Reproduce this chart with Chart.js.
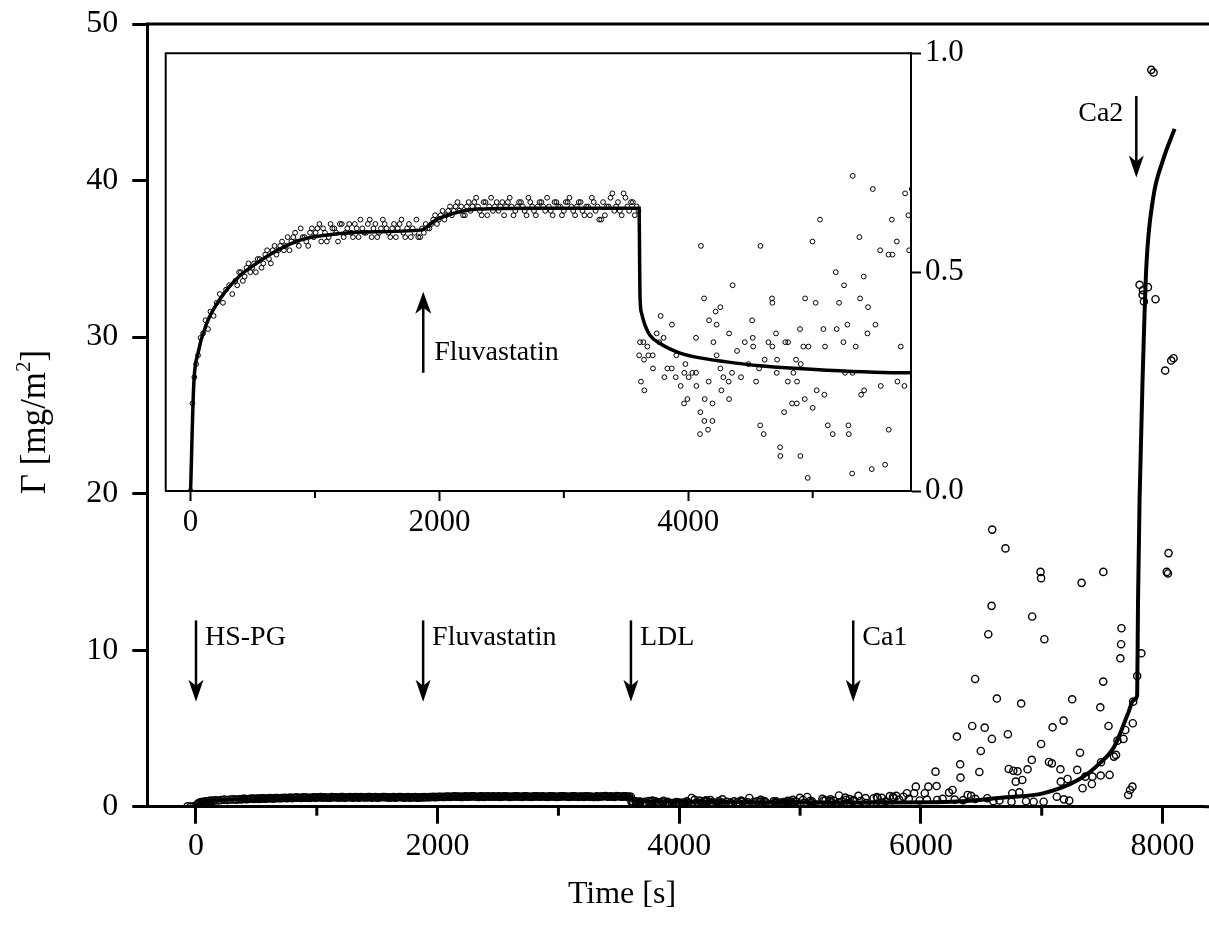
<!DOCTYPE html>
<html><head><meta charset="utf-8">
<script src="https://cdn.jsdelivr.net/npm/chart.js@4/dist/chart.umd.min.js"></script>
<style>
html,body{margin:0;padding:0;background:#fff;}
#wrap{position:relative;width:1209px;height:926px;}
#main{position:absolute;left:0;top:0;}
#inset{position:absolute;left:150px;top:40px;}
</style></head><body>
<div id="wrap"><canvas id="main" width="1209" height="926"></canvas><canvas id="inset" width="850" height="500"></canvas></div>
<script>
// adsorbed amount vs time
const earlyTime=[-70,-45,-20,0,15,30,45,60,80,100,120,140,160,185,210,235,260,285,310,335,360,390,420,450,480,510,540,570,600,630,660,690,720,750,780,810,840,870,900,930,960,990,1020,1050,1080,1110,1140,1170,1200,1230,1260,1290,1320,1350,1380,1410,1440,1470,1500,1530,1560,1590,1620,1650,1680,1710,1740,1770,1800,1830,1860,1890,1920,1950,1980,2010,2040,2070,2100,2130,2160,2190,2220,2250,2280,2310,2340,2370,2400,2430,2460,2490,2520,2550,2580,2610,2640,2670,2700,2730,2760,2790,2820,2850,2880,2910,2940,2970,3000,3030,3060,3090,3120,3150,3180,3210,3240,3270,3300,3330,3360,3390,3420,3450,3480,3510,3540,3570,3600];
const earlyGamma=[0.02,0.01,0.03,0.00,0.20,0.26,0.29,0.31,0.35,0.36,0.39,0.37,0.41,0.40,0.43,0.45,0.43,0.46,0.47,0.45,0.48,0.50,0.48,0.51,0.50,0.52,0.53,0.51,0.54,0.53,0.55,0.54,0.56,0.55,0.58,0.57,0.59,0.56,0.58,0.57,0.59,0.58,0.60,0.57,0.59,0.58,0.60,0.59,0.61,0.58,0.60,0.59,0.61,0.58,0.60,0.59,0.62,0.60,0.58,0.60,0.61,0.59,0.60,0.58,0.61,0.59,0.60,0.58,0.59,0.58,0.60,0.61,0.60,0.62,0.61,0.63,0.62,0.64,0.63,0.65,0.64,0.63,0.65,0.64,0.66,0.65,0.63,0.66,0.65,0.64,0.66,0.65,0.63,0.66,0.65,0.64,0.66,0.65,0.63,0.66,0.64,0.65,0.66,0.64,0.65,0.63,0.66,0.65,0.64,0.66,0.65,0.63,0.66,0.64,0.65,0.63,0.66,0.65,0.62,0.63,0.65,0.68,0.65,0.64,0.68,0.65,0.66,0.63,0.64];
const earlyTimeB=[375,405,435,465,495,525,555,585,615,645,675,705,735,765,795,825,855,885,915,945,975,1005,1035,1065,1095,1125,1155,1185,1215,1245,1275,1305,1335,1365,1395,1425,1455,1485,1515,1545,1575,1605,1635,1665,1695,1725,1755,1785,1815,1845,1875,1905,1935,1965,1995,2025,2055,2085,2115,2145,2175,2205,2235,2265,2295,2325,2355,2385,2415,2445,2475,2505,2535,2565,2595,2625,2655,2685,2715,2745,2775,2805,2835,2865,2895,2925,2955,2985,3015,3045,3075,3105,3135,3165,3195,3225,3255,3285,3315,3345,3375,3405,3435,3465,3495,3525,3555,3585];
const earlyGammaB=[0.47,0.50,0.49,0.52,0.51,0.50,0.53,0.52,0.55,0.52,0.56,0.55,0.57,0.56,0.55,0.58,0.57,0.60,0.58,0.56,0.60,0.59,0.61,0.60,0.57,0.61,0.60,0.57,0.61,0.59,0.61,0.58,0.60,0.62,0.59,0.61,0.58,0.61,0.59,0.62,0.60,0.58,0.61,0.60,0.62,0.58,0.61,0.60,0.62,0.58,0.59,0.60,0.61,0.63,0.62,0.64,0.63,0.65,0.64,0.66,0.65,0.63,0.66,0.65,0.67,0.64,0.66,0.63,0.67,0.65,0.64,0.66,0.65,0.67,0.63,0.65,0.66,0.64,0.67,0.65,0.63,0.66,0.65,0.67,0.64,0.66,0.65,0.63,0.66,0.67,0.64,0.65,0.66,0.63,0.65,0.67,0.64,0.62,0.66,0.65,0.67,0.64,0.66,0.63,0.67,0.64,0.66,0.65];
const midTime=[3612,3620,3647,3605,3644,3679,3714,3639,3671,3746,3778,3802,3767,3869,3904,3716,3808,3832,3867,3899,3939,3977,3968,4003,4033,4062,4065,3993,3966,4062,4102,4127,4097,4129,4159,4094,4194,4194,4132,4164,4167,4228,4202,4228,4220,4258,4258,4282,4325,4266,4328,4328,4352,4357,4392,4424,4454,4483,4513,4518,4522,4545,4569,4580,4578,4606,4614,4644,4676,4673,4676,4705,4714,4711,4770,4738,4740,4780,4802,4800,4834,4872,4845,4866,4904,4874,4898,4901,4925,4965,4939,4936,4960,4998,5000,5024,5032,5059,5086,5094,5099,5121,5161,5185,5212,5193,5247,5252,5279,5260,5287,5290,5319,5322,5317,5346,5375,5389,5381,5413,5410,5445,5440,5504,5483,5542,5547,5609,5636,5641,5676,5743,5769,5775,5708,5681,5611,5475,5582,5737];
const midGamma=[0.34,0.25,0.23,0.31,0.30,0.31,0.31,0.34,0.33,0.36,0.40,0.35,0.34,0.38,0.31,0.28,0.26,0.28,0.28,0.26,0.24,0.29,0.27,0.26,0.27,0.27,0.24,0.21,0.20,0.35,0.56,0.44,0.18,0.16,0.14,0.13,0.16,0.20,0.21,0.25,0.39,0.38,0.34,0.31,0.41,0.42,0.28,0.26,0.25,0.23,0.21,0.36,0.27,0.47,0.32,0.26,0.34,0.29,0.39,0.35,0.33,0.25,0.28,0.56,0.15,0.13,0.30,0.34,0.33,0.44,0.43,0.36,0.30,0.27,0.18,0.10,0.08,0.34,0.34,0.25,0.20,0.20,0.27,0.30,0.29,0.25,0.37,0.08,0.33,0.33,0.44,0.21,0.03,0.57,0.19,0.43,0.23,0.62,0.37,0.22,0.33,0.15,0.13,0.50,0.43,0.37,0.34,0.47,0.38,0.27,0.15,0.13,0.27,0.72,0.04,0.33,0.58,0.22,0.44,0.23,0.49,0.42,0.36,0.38,0.69,0.55,0.24,0.54,0.62,0.54,0.57,0.68,0.63,0.55,0.33,0.25,0.14,0.05,0.06,0.24];
const lateTime=[5796,5855,5884,5944,5958,6032,6062,6121,6130,6135,6233,6262,6298,6325,6328,6387,6416,6425,6449,6484,6496,6528,6549,6558,6585,6588,6629,6720,6727,6750,6756,6765,6785,6800,6815,6830,6839,6883,6918,6921,6933,6995,7016,7022,7060,7084,7090,7125,7155,7158,7181,7184,7214,7228,7252,7294,7317,7338,7361,7415,7420,7485,7488,7491,7509,7553,7562,7598,7615,7627,7651,7657,7660,7677,7692,7716,7731,7751,7754,7757,7790,7825,7907,7926,7810,7838,7879,7835,7846,7942,8072,8091,8022,6590,6700,6990,6995,7330,7510,8050,8035,8045,5820,5900,5990,6050,6180,6280,6350,6450,6600,6650,6870];
const lateGamma=[0.69,0.64,0.86,0.86,1.28,0.86,1.28,2.24,1.32,0.43,0.90,1.07,4.48,2.71,1.86,0.75,0.69,5.16,8.16,2.22,3.56,5.05,0.54,11.02,12.83,4.33,6.91,4.63,2.41,0.32,0.86,2.30,1.60,2.26,0.92,6.59,1.71,2.39,2.99,12.15,0.32,4.01,0.32,10.70,2.86,2.77,5.07,0.64,2.39,1.60,5.50,0.47,1.77,0.39,6.86,2.35,3.45,1.18,1.92,1.45,1.92,6.35,1.99,2.84,7.99,5.16,2.03,3.20,3.31,4.22,9.48,10.38,11.40,4.33,4.90,0.75,1.07,1.28,5.33,6.71,8.35,9.80,47.07,46.9,33.34,33.0,33.19,32.7,32.27,32.42,28.5,28.65,27.86,17.7,16.5,15.0,14.6,14.3,15.0,16.2,15.0,14.9,0.45,0.5,0.4,0.45,0.5,0.45,0.42,0.5,0.35,0.4,0.35];
const fitTime=[0,25,60,130,250,390,530,680,880,1100,1400,1850,1970,2110,2310,2800,3605,3609,3612,3625,3652,3692,3773,3907,4041,4309,4577,5113,5769,6100,6300,6480,6710,7010,7300,7480,7600,7715,7760,7790,7797,7810,7838,7866,7921,8004,8100];
const fitGamma=[0,0.24,0.315,0.383,0.444,0.49,0.52,0.547,0.573,0.585,0.592,0.596,0.619,0.634,0.644,0.646,0.646,0.52,0.444,0.406,0.379,0.356,0.337,0.318,0.307,0.295,0.286,0.276,0.27,0.28,0.33,0.43,0.6,0.85,1.7,2.77,3.83,5.97,6.8,7.1,13,19.6,28.1,34.5,38.8,41.3,43.3];

const mainXTicks=[0,2000,4000,6000,8000];
const mainXMinor=[1000,3000,5000,7000];
const mainYTicks=[0,10,20,30,40,50];
const insetXTicks=[0,2000,4000];
const insetXMinor=[1000,3000,5000];
const insetYTicks=[0,0.5,1.0];

const arrowLabels=['HS-PG','Fluvastatin','LDL','Ca1','Ca2'];
const arrowTimes=[0,1880,3600,5440,7783];
const arrowFrom=[11.9,11.9,11.9,11.9,45.4];
const arrowTo=[6.7,6.7,6.7,6.7,40.2];
const insetArrowTime=1870, insetArrowFrom=0.27, insetArrowTo=0.455;

const serif="'Liberation Serif','Times New Roman',serif";
Chart.defaults.font.family=serif;
Chart.defaults.color='#000';

const allT=[...earlyTime,...earlyTimeB,...midTime,...lateTime];
const allG=[...earlyGamma,...earlyGammaB,...midGamma,...lateGamma];
const pts=allT.map((t,i)=>({x:t,y:allG[i]}));
const insetPts=pts.filter(p=>p.x>=0);
const fit=fitTime.map((t,i)=>({x:t,y:fitGamma[i]}));

function arrow(ctx,x,y0,y1,head,half){
  const dir=y1>y0?1:-1;
  ctx.lineWidth=2.5;
  ctx.beginPath();ctx.moveTo(x,y0);ctx.lineTo(x,y1-dir*(head-6));ctx.stroke();
  ctx.beginPath();ctx.moveTo(x,y1);ctx.lineTo(x-half,y1-dir*head);ctx.lineTo(x,y1-dir*(head-6));ctx.lineTo(x+half,y1-dir*head);ctx.closePath();ctx.fill();
}
const noPad=s=>{s.paddingLeft=0;s.paddingRight=0;s.paddingTop=0;s.paddingBottom=0;};

const mainDecor={id:'mainDecor',afterDraw(c){
  const {ctx,chartArea:a,scales:{x,y}}=c;
  ctx.save();ctx.strokeStyle='#000';ctx.fillStyle='#000';
  ctx.lineWidth=3;
  ctx.beginPath();ctx.moveTo(a.left-1.5,a.top);ctx.lineTo(c.width,a.top);ctx.stroke();
  ctx.beginPath();ctx.moveTo(a.right,a.bottom);ctx.lineTo(c.width,a.bottom);ctx.stroke();
  mainXMinor.forEach(v=>{const px=x.getPixelForValue(v);ctx.beginPath();ctx.moveTo(px,a.bottom);ctx.lineTo(px,a.bottom+9);ctx.stroke();});
  ctx.font=`28px ${serif}`;ctx.textBaseline='alphabetic';
  arrowLabels.forEach((lab,i)=>{
    const px=x.getPixelForValue(arrowTimes[i]),y0=y.getPixelForValue(arrowFrom[i]),y1=y.getPixelForValue(arrowTo[i]);
    arrow(ctx,px,y0,y1,22,7.5);
    const right=i===arrowLabels.length-1;
    ctx.textAlign=right?'right':'left';
    ctx.fillText(lab,px+(right?-13:9),y0+25);
  });
  ctx.font=`32px ${serif}`;ctx.textAlign='center';
  ctx.fillText('Time [s]',622,903);
  ctx.translate(45,422);ctx.rotate(-Math.PI/2);
  const f1=`35px ${serif}`,f2=`21px ${serif}`;
  ctx.font=f1;const wa=ctx.measureText('\u0393 [mg/m').width,wc=ctx.measureText(']').width;
  ctx.font=f2;const wb=ctx.measureText('2').width;
  const sx=-(wa+wb+wc)/2;
  ctx.textAlign='left';
  ctx.font=f1;ctx.fillText('\u0393 [mg/m',sx,0);
  ctx.font=f2;ctx.fillText('2',sx+wa,-15);
  ctx.font=f1;ctx.fillText(']',sx+wa+wb,0);
  ctx.restore();
}};

new Chart(document.getElementById('main'),{
  type:'scatter',
  data:{datasets:[
    {data:pts,showLine:false,pointRadius:3.6,pointBorderWidth:1.4,pointBorderColor:'#000',pointBackgroundColor:'rgba(0,0,0,0)'},
    {data:fit,showLine:true,borderColor:'#000',borderWidth:4,pointRadius:0,cubicInterpolationMode:'monotone'}
  ]},
  options:{responsive:false,animation:false,events:[],
    layout:{padding:{top:24,right:0,left:0,bottom:0}},
    plugins:{legend:{display:false},tooltip:{enabled:false}},
    scales:{
      x:{type:'linear',min:-403,max:8340,
        afterBuildTicks:s=>{s.ticks=mainXTicks.map(v=>({value:v}));},
        afterFit:s=>{s.height=119.3;noPad(s);},
        border:{width:3,color:'#000'},
        grid:{drawOnChartArea:false,tickLength:17,tickWidth:3,tickColor:'#000'},
        ticks:{font:{size:32},padding:4,maxRotation:0,autoSkip:false,callback:v=>String(v)}},
      y:{type:'linear',min:0,max:50,
        afterBuildTicks:s=>{s.ticks=mainYTicks.map(v=>({value:v}));},
        afterFit:s=>{s.width=147.3;noPad(s);},
        border:{width:3,color:'#000'},
        grid:{drawOnChartArea:false,tickLength:15,tickWidth:3,tickColor:'#000'},
        ticks:{font:{size:32},padding:14,callback:v=>String(v)}}
    }},
  plugins:[mainDecor]
});

const insetDecor={id:'insetDecor',
  beforeDraw(c){const {ctx,chartArea:a}=c;ctx.save();ctx.fillStyle='#fff';ctx.fillRect(a.left,a.top,a.right-a.left,a.bottom-a.top);ctx.restore();},
  afterDraw(c){
    const {ctx,chartArea:a,scales:{x,y}}=c;
    ctx.save();ctx.strokeStyle='#000';ctx.fillStyle='#000';ctx.lineWidth=2;
    ctx.beginPath();ctx.moveTo(a.left,a.bottom);ctx.lineTo(a.left,a.top);ctx.lineTo(a.right,a.top);ctx.stroke();
    insetXMinor.forEach(v=>{const px=x.getPixelForValue(v);ctx.beginPath();ctx.moveTo(px,a.bottom);ctx.lineTo(px,a.bottom+7);ctx.stroke();});
    const px=x.getPixelForValue(insetArrowTime);
    arrow(ctx,px,y.getPixelForValue(insetArrowFrom),y.getPixelForValue(insetArrowTo),22,8);
    ctx.font=`28px ${serif}`;ctx.textAlign='left';ctx.textBaseline='middle';
    ctx.fillText('Fluvastatin',px+11,y.getPixelForValue(0.315));
    ctx.restore();
  }};

new Chart(document.getElementById('inset'),{
  type:'scatter',
  data:{datasets:[
    {data:insetPts,showLine:false,pointRadius:2.4,pointBorderWidth:1,pointBorderColor:'#000',pointBackgroundColor:'rgba(0,0,0,0)'},
    {data:fit,showLine:true,borderColor:'#000',borderWidth:3.5,pointRadius:0,cubicInterpolationMode:'monotone'}
  ]},
  options:{responsive:false,animation:false,events:[],
    layout:{padding:{top:13.3,right:0,left:15.7,bottom:0}},
    plugins:{legend:{display:false},tooltip:{enabled:false}},
    scales:{
      x:{type:'linear',min:-200,max:5790,
        afterBuildTicks:s=>{s.ticks=insetXTicks.map(v=>({value:v}));},
        afterFit:s=>{s.height=49;noPad(s);},
        border:{width:2,color:'#000'},
        grid:{drawOnChartArea:false,tickLength:10,tickWidth:2,tickColor:'#000'},
        ticks:{font:{size:31},padding:3,maxRotation:0,autoSkip:false,callback:v=>String(v)}},
      y:{type:'linear',position:'right',min:0,max:1,
        afterBuildTicks:s=>{s.ticks=insetYTicks.map(v=>({value:v}));},
        afterFit:s=>{s.width=89;noPad(s);},
        border:{width:2,color:'#000'},
        grid:{drawOnChartArea:false,tickLength:10,tickWidth:2,tickColor:'#000'},
        ticks:{font:{size:31},padding:4,callback:v=>v.toFixed(1)}}
    }},
  plugins:[insetDecor]
});
</script>
</body></html>
